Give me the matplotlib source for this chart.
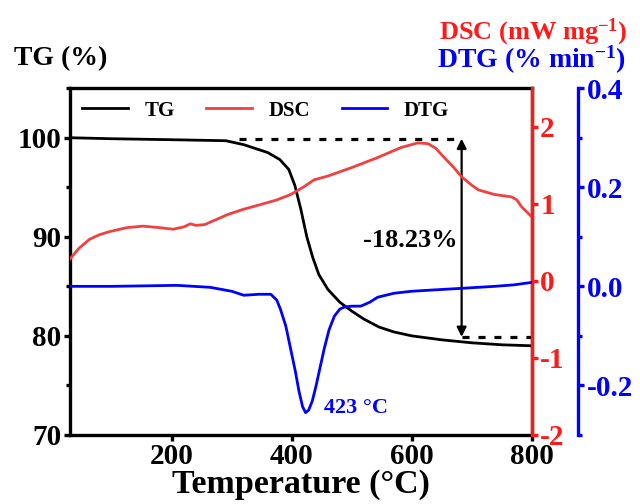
import matplotlib
matplotlib.use('Agg')
import matplotlib.pyplot as plt
from matplotlib.ticker import MultipleLocator

plt.rcParams['font.family'] = 'Liberation Serif'
plt.rcParams['font.weight'] = 'bold'
plt.rcParams['axes.unicode_minus'] = False
plt.rcParams['mathtext.fontset'] = 'custom'
plt.rcParams['mathtext.rm'] = 'Liberation Serif:bold'
plt.rcParams['mathtext.bf'] = 'Liberation Serif:bold'
plt.rcParams['mathtext.default'] = 'bf'

# --- data
tg_T = [30, 100, 200, 290, 320, 340, 360, 380, 395, 405, 415, 425, 435, 445,
        460, 480, 500, 520, 545, 570, 600, 650, 700, 750, 800]
tg_val = [100.0, 99.9, 99.8, 99.7, 99.3, 98.9, 98.5, 97.8, 96.8, 95.2, 92.8,
          90.0, 87.9, 86.2, 84.7, 83.4, 82.5, 81.7, 80.9, 80.4, 80.0, 79.6,
          79.3, 79.1, 79.0]

dsc_T = [30, 45, 63, 80, 97, 125, 152, 180, 202, 220, 231, 240, 255, 293, 320,
         348, 375, 398, 420, 437, 460, 500, 543, 582, 610, 627, 640, 654, 670,
         683, 700, 711, 738, 766, 775, 783, 800]
dsc_val = [0.28, 0.42, 0.54, 0.60, 0.64, 0.69, 0.71, 0.69, 0.67, 0.70, 0.74,
           0.72, 0.73, 0.86, 0.93, 0.99, 1.05, 1.12, 1.22, 1.31, 1.36, 1.47,
           1.60, 1.73, 1.79, 1.78, 1.72, 1.60, 1.47, 1.35, 1.24, 1.18, 1.12,
           1.09, 1.05, 0.96, 0.83]

dtg_T = [30, 100, 209, 264, 300, 320, 345, 365, 375, 381, 390, 398, 406, 412,
         418, 423, 428, 434, 440, 446, 454, 462, 471, 480, 487, 500, 515, 530,
         543, 570, 599, 640, 683, 738, 770, 800]
dtg_val = [0.0, 0.0, 0.002, -0.002, -0.010, -0.018, -0.016, -0.016, -0.028,
           -0.046, -0.080, -0.126, -0.172, -0.212, -0.243, -0.255, -0.250,
           -0.232, -0.203, -0.170, -0.126, -0.088, -0.060, -0.046, -0.042,
           -0.040, -0.040, -0.032, -0.022, -0.014, -0.010, -0.007, -0.004,
           0.0, 0.003, 0.008]

# mass loss marker
loss_T = 683
loss_top = 99.9
loss_bot = 79.9
loss_label = '-18.23%'
peak_label = '423 °C'

RED = '#ff1a1a'
BLUE = '#0000ff'
SPW = 2.4

fig = plt.figure(figsize=(6.4, 5.04), dpi=100)
ax = fig.add_axes([0.109, 0.137, 0.722, 0.688])
ax2 = ax.twinx()
ax3 = ax.twinx()
ax3.spines['right'].set_position(('axes', 1.1))

l1, = ax.plot(tg_T, tg_val, color='black', lw=2, label='TG')
l2, = ax2.plot(dsc_T, dsc_val, color='#f04040', lw=2, label='DSC')
l3, = ax3.plot(dtg_T, dtg_val, color=BLUE, lw=2, label='DTG')

ax.set_xlim(30, 800)
ax.set_ylim(70, 105)
ax2.set_ylim(-2, 2.5)
ax3.set_ylim(-0.3, 0.4)

ax.set_xticks([200, 400, 600, 800])
ax.set_yticks([70, 80, 90, 100])
ax.yaxis.set_minor_locator(MultipleLocator(5))
ax2.set_yticks([-2, -1, 0, 1, 2])
ax3.set_yticks([-0.2, 0.0, 0.2, 0.4])
ax3.set_yticklabels(['-0.2', '0.0', '0.2', '0.4'])
ax3.yaxis.set_minor_locator(MultipleLocator(0.1))

for a in (ax, ax2, ax3):
    for s in a.spines.values():
        s.set_linewidth(SPW)
ax.tick_params(axis='both', which='major', labelsize=21, width=SPW, length=4,
               pad=2)
ax.tick_params(axis='y', which='minor', width=SPW, length=3)
ax2.spines['right'].set_color(RED)
ax2.tick_params(axis='y', colors=RED, labelsize=21, width=SPW, length=4, pad=2)
ax3.spines['right'].set_color(BLUE)
ax3.tick_params(axis='y', which='major', colors=BLUE, labelsize=21, width=SPW,
                length=4, pad=2)
ax3.tick_params(axis='y', which='minor', colors=BLUE, width=SPW, length=3)
for a in (ax2, ax3):
    a.spines['left'].set_visible(False)
    a.spines['top'].set_visible(False)
    a.spines['bottom'].set_visible(False)

ax.set_xlabel('Temperature (°C)', fontsize=24.5, fontweight='bold', labelpad=-1)

# mass loss annotation
ax.plot([312, loss_T], [loss_top, loss_top], color='black', lw=2.3,
        ls=(0, (2.2, 2.8)))
ax.plot([loss_T, 798], [loss_bot, loss_bot], color='black', lw=2.3,
        ls=(0, (2.2, 2.8)))
ax.annotate('', xy=(loss_T, loss_top), xytext=(loss_T, loss_bot),
            arrowprops=dict(arrowstyle='<|-|>', color='black', lw=1.6,
                            mutation_scale=14, shrinkA=0, shrinkB=0))
ax.text(677, 89.6, loss_label, fontsize=19, fontweight='bold', ha='right',
        va='center')
ax3.text(453, -0.246, peak_label, fontsize=16, fontweight='bold', color=BLUE,
         ha='left', va='center')

ax3.legend(handles=[l1, l2, l3], loc='upper left', bbox_to_anchor=(0.0, 1.0),
           ncol=3, frameon=False, prop={'size': 15, 'weight': 'bold'},
           handlelength=2.2, handletextpad=0.8, columnspacing=1.5,
           borderaxespad=0.2)

fig.text(0.022, 0.884, 'TG (%)', fontsize=20, fontweight='bold', va='center')
fig.text(0.980, 0.936, r'DSC (mW mg$^{-1}$)', fontsize=19, fontweight='bold',
         color=RED, ha='right', va='center')
fig.text(0.978, 0.882, r'DTG (% min$^{-1}$)', fontsize=20, fontweight='bold',
         color=BLUE, ha='right', va='center')

fig.savefig('out.png', dpi=100)
